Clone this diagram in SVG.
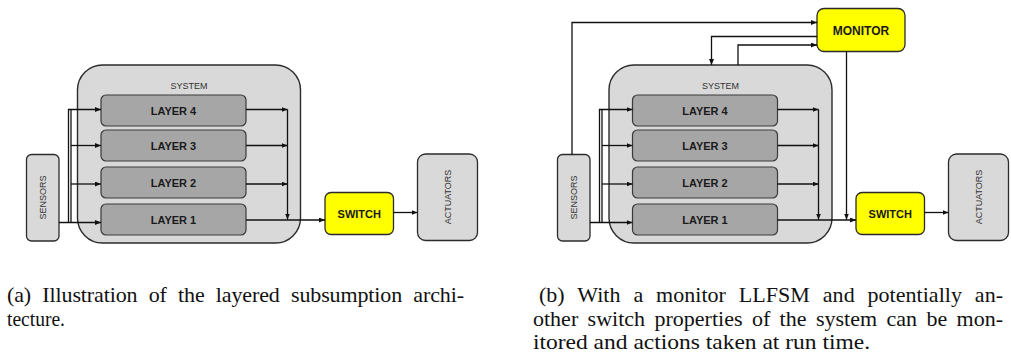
<svg xmlns="http://www.w3.org/2000/svg" width="1011" height="361" viewBox="0 0 1011 361">
<defs>
<marker id="arr" markerUnits="userSpaceOnUse" markerWidth="6" markerHeight="5" refX="6" refY="2.5" orient="auto">
<path d="M0,0 L6,2.5 L0,5 z" fill="#111"/>
</marker>
<style>
.sys{fill:#d9d9d9;stroke:#2b2b2b;stroke-width:1.4}
.lay{fill:#a6a6a6;stroke:#3a3a3a;stroke-width:1.2}
.io{fill:#d9d9d9;stroke:#2b2b2b;stroke-width:1.3}
.yel{fill:#ffff00;stroke:#2b2b2b;stroke-width:1.3}
.lbl{font-family:"Liberation Sans",Arial,sans-serif;font-size:9px;fill:#333;text-anchor:middle}
.bld{font-family:"Liberation Sans",Arial,sans-serif;font-size:11px;font-weight:bold;fill:#1a1a1a;text-anchor:middle}
.con path{fill:none;stroke:#111;stroke-width:1.3}
.ar{marker-end:url(#arr)}
.cap{font-family:"Liberation Serif","Times New Roman",serif;font-size:22px;fill:#111}
</style>
</defs>
<rect width="1011" height="361" fill="#fff"/>

<!-- Diagram (a) -->
<g id="a-system"><rect class="sys" x="77.5" y="65" width="223" height="178" rx="25"/><text class="lbl" x="189" y="89">SYSTEM</text></g>
<g id="a-layer4"><rect class="lay" x="101" y="95" width="145" height="31" rx="5"/><text class="bld" x="173.5" y="114.5">LAYER 4</text></g>
<g id="a-layer3"><rect class="lay" x="101" y="130" width="145" height="31" rx="5"/><text class="bld" x="173.5" y="149.5">LAYER 3</text></g>
<g id="a-layer2"><rect class="lay" x="101" y="167" width="145" height="31" rx="5"/><text class="bld" x="173.5" y="186.5">LAYER 2</text></g>
<g id="a-layer1"><rect class="lay" x="101" y="204" width="145" height="31" rx="5"/><text class="bld" x="173.5" y="223.5">LAYER 1</text></g>
<g id="a-sensors"><rect class="io" x="26.5" y="154.5" width="32.5" height="86.5" rx="5"/><text class="lbl" transform="translate(46,197.5) rotate(-90)">SENSORS</text></g>
<g id="a-switch"><rect class="yel" x="325" y="192.5" width="68.5" height="42" rx="6"/><text class="bld" x="359.3" y="217.5">SWITCH</text></g>
<g id="a-actuators"><rect class="io" x="417.5" y="154" width="60" height="86.5" rx="8"/><text class="lbl" transform="translate(450.5,197) rotate(-90)">ACTUATORS</text></g>

<g id="a-connectors" class="con">
<path class="ar" d="M59,222.5 H101"/>
<path class="ar" d="M68.5,222.5 V109.5 H101"/>
<path d="M71,222.5 V109.5"/>
<path class="ar" d="M71,145.5 H101"/>
<path class="ar" d="M71,184 H101"/>
<path class="ar" d="M246,109.5 H287.5"/>
<path class="ar" d="M246,145.5 H287.5"/>
<path class="ar" d="M246,184 H287.5"/>
<path class="ar" d="M287.5,109.5 V219.5"/>
<path class="ar" d="M246,220 H325"/>
<path class="ar" d="M393.5,212.5 H417.5"/>
</g>

<!-- Diagram (b) -->
<g id="b-system"><rect class="sys" x="609" y="65" width="223" height="178" rx="25"/><text class="lbl" x="720.5" y="89">SYSTEM</text></g>
<g id="b-layer4"><rect class="lay" x="632.5" y="95" width="145" height="31" rx="5"/><text class="bld" x="705" y="114.5">LAYER 4</text></g>
<g id="b-layer3"><rect class="lay" x="632.5" y="130" width="145" height="31" rx="5"/><text class="bld" x="705" y="149.5">LAYER 3</text></g>
<g id="b-layer2"><rect class="lay" x="632.5" y="167" width="145" height="31" rx="5"/><text class="bld" x="705" y="186.5">LAYER 2</text></g>
<g id="b-layer1"><rect class="lay" x="632.5" y="204" width="145" height="31" rx="5"/><text class="bld" x="705" y="223.5">LAYER 1</text></g>
<g id="b-sensors"><rect class="io" x="557.5" y="154.5" width="32.5" height="86.5" rx="5"/><text class="lbl" transform="translate(577,197.5) rotate(-90)">SENSORS</text></g>
<g id="b-switch"><rect class="yel" x="856" y="192.5" width="68.5" height="42" rx="6"/><text class="bld" x="890.3" y="217.5">SWITCH</text></g>
<g id="b-actuators"><rect class="io" x="948.5" y="154" width="60" height="86.5" rx="8"/><text class="lbl" transform="translate(981.5,197) rotate(-90)">ACTUATORS</text></g>
<g id="b-monitor"><rect class="yel" x="817" y="8.5" width="88" height="43" rx="7"/><text class="bld" style="font-size:12px" x="861" y="34.5">MONITOR</text></g>

<g id="b-connectors" class="con">
<path class="ar" d="M590,222.5 H632.5"/>
<path class="ar" d="M599.5,222.5 V109.5 H632.5"/>
<path d="M602,222.5 V109.5"/>
<path class="ar" d="M602,145.5 H632.5"/>
<path class="ar" d="M602,184 H632.5"/>
<path class="ar" d="M777.5,109.5 H818.5"/>
<path class="ar" d="M777.5,145.5 H818.5"/>
<path class="ar" d="M777.5,184 H818.5"/>
<path class="ar" d="M818.5,109.5 V219.5"/>
<path class="ar" d="M777.5,220 H856"/>
<path class="ar" d="M924.5,212.5 H948.5"/>
<path class="ar" d="M572,154.5 V22.5 H817"/>
<path class="ar" d="M817,36.5 H711.5 V65"/>
<path class="ar" d="M738,65 V45 H817"/>
<path class="ar" d="M846.5,51.5 V219.5"/>
</g>

<!-- Captions -->
<g id="captions">
<text class="cap" x="7" y="302" style="word-spacing:5.9px" textLength="457">(a) Illustration of the layered subsumption archi-</text>
<text class="cap" x="7" y="325.5" textLength="58" lengthAdjust="spacingAndGlyphs">tecture.</text>
<text class="cap" x="539" y="302" style="word-spacing:7.4px" textLength="464">(b) With a monitor LLFSM and potentially an-</text>
<text class="cap" x="533" y="325.5" style="word-spacing:3.9px" textLength="470">other switch properties of the system can be mon-</text>
<text class="cap" x="533" y="349" textLength="337" lengthAdjust="spacingAndGlyphs">itored and actions taken at run time.</text>
</g>
</svg>
